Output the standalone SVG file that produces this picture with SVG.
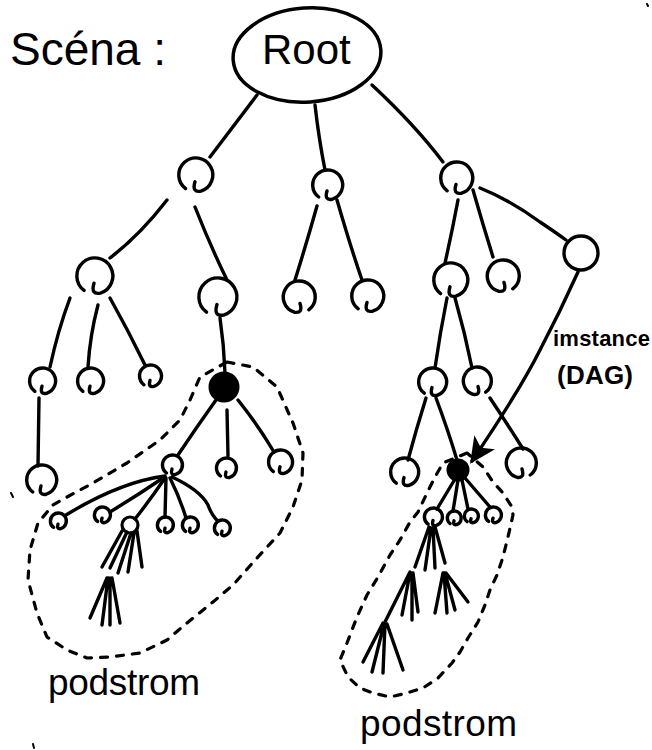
<svg xmlns="http://www.w3.org/2000/svg" xmlns:xlink="http://www.w3.org/1999/xlink" width="652" height="750" viewBox="0 0 652 750">
  <style>
    .ink { fill: none; stroke: #000; stroke-linecap: round; stroke-linejoin: round; }
    .edge { stroke-width: 3.4; }
    .dash { stroke-width: 3.2; stroke-dasharray: 7 9; }
    .solid { fill: #000; stroke: #000; stroke-width: 3; }
    .hand { font-family: "Liberation Sans", "DejaVu Sans", sans-serif; fill: #000; }
    .note { font-weight: bold; }
  </style>
  <defs>
    <!-- hand-drawn loop node, radius 10 around the origin; stroke width set per use -->
    <path id="knot" class="ink" d="M-5.5,8 A10,10 0 1 1 3.5,9.5 Q-2,10.5 0,4"/>
    <marker id="arrow" viewBox="0 0 12 12" refX="10" refY="6" markerWidth="8" markerHeight="8" markerUnits="strokeWidth" orient="auto">
      <path d="M0,0.5 L11.5,6 L0,11.5 L3,6 Z" fill="#000"/>
    </marker>
  </defs>

  <!-- titles and labels -->
  <text class="hand" x="10" y="65" font-size="46">Scéna :</text>
  <text class="hand note" x="553" y="346" font-size="22" textLength="97">imstance</text>
  <text class="hand note" x="557" y="384" font-size="26" textLength="76">(DAG)</text>
  <text class="hand" x="48" y="695" font-size="37" textLength="152">podstrom</text>
  <text class="hand" x="360" y="736" font-size="37" textLength="157">podstrom</text>

  <!-- subtree outlines -->
  <path class="ink dash" d="M227,362 L253,367 L277,387 L293,423 L303,453 L302,480 L293,507 L280,533 L257,558 L233,585 L213,602 L187,623 L167,640 L140,653 L110,657 L87,658 L67,650 L47,637 L37,613 L28,580 L30,550 L38,523 L53,505 L67,497 L93,483 L127,463 L160,440 L180,420 L190,400 L200,377 Z"/>
  <path class="ink dash" d="M467,453 L443,463 L435,477 L427,493 L418,512 L410,522 L400,540 L390,555 L378,577 L367,595 L357,617 L347,643 L340,660 L348,677 L360,688 L373,693 L390,697 L407,693 L423,688 L438,678 L452,663 L460,652 L468,638 L478,622 L485,605 L490,590 L497,575 L503,557 L508,537 L513,515 L512,507 L503,493 L493,482 L483,467 Z"/>

  <g id="connectors" class="ink edge">
    <path d="M257,95 Q232,128 210,157"/>
    <path d="M315,105 Q319,140 325,170"/>
    <path d="M372,85 Q415,125 443,162"/>
    <path d="M167,200 Q140,235 110,258"/>
    <path d="M195,207 Q210,245 227,280"/>
    <path d="M317,206 Q306,245 295,280"/>
    <path d="M337,200 Q350,245 362,280"/>
    <path d="M458,200 Q452,232 445,263"/>
    <path d="M473,190 Q483,225 493,257"/>
    <path d="M480,188 Q510,200 540,222 Q555,232 566,240"/>
    <path d="M70,298 Q58,330 50,367"/>
    <path d="M98,305 Q90,335 88,367"/>
    <path d="M110,298 Q128,330 145,365"/>
    <path d="M220,318 Q224,345 225,373"/>
    <path d="M39,398 L38,466"/>
    <path d="M216,400 Q196,428 178,455"/>
    <path d="M227,410 L228,456"/>
    <path d="M238,400 Q258,425 274,452"/>
    <path d="M165,476 Q120,482 66,515"/>
    <path d="M163,478 Q138,495 110,512"/>
    <path d="M165,478 Q150,500 135,519"/>
    <path d="M166,478 L165,517"/>
    <path d="M170,478 Q180,498 186,518"/>
    <path d="M172,477 Q200,490 208,505 Q212,516 218,521"/>
    <path d="M447,298 Q440,333 435,368"/>
    <path d="M455,298 Q465,333 472,368"/>
    <path d="M426,398 Q416,430 408,460"/>
    <path d="M436,398 Q448,430 457,460"/>
    <path d="M490,398 Q508,425 523,449"/>
    <path d="M455,479 L437,509"/>
    <path d="M458,480 L453,511"/>
    <path d="M462,480 L468,509"/>
    <path d="M465,478 L490,507"/>
    <path d="M578,272 Q560,312 540,350 Q520,390 472,461" marker-end="url(#arrow)"/>
  </g>

  <g id="subtree-fans" class="ink edge">
    <path d="M122,531 L102,567 M127,532 L110,568 M131,533 L118,573 M134,533 L128,572 M137,531 L142,567"/>
    <path d="M107,578 L90,618 M108,578 L102,625 M110,578 L110,625 M112,578 L120,623"/>
    <path d="M429,527 L415,567 M431,528 L425,570 M433,528 L435,568 M435,527 L445,563"/>
    <path d="M410,572 L385,622 M410,573 L402,615 M412,573 L412,620 M413,573 L418,612"/>
    <path d="M443,573 L435,613 M444,573 L447,613 M445,573 L455,610 M446,573 L468,602"/>
    <path d="M383,623 L363,662 M384,624 L372,672 M385,624 L383,673 M387,624 L403,670"/>
  </g>

  <!-- root -->
  <g id="root">
    <ellipse class="ink" cx="307" cy="55" rx="74" ry="47" stroke-width="3.5" transform="rotate(-4 307 55)"/>
    <text class="hand" x="262" y="64" font-size="42">Root</text>
  </g>

  <!-- level 1 -->
  <g id="n-l"><use xlink:href="#knot" transform="translate(195,175) scale(1.7)" stroke-width="2"/></g>
  <g id="n-m"><use xlink:href="#knot" transform="translate(327,185) scale(1.5)" stroke-width="2.27"/></g>
  <g id="n-r"><use xlink:href="#knot" transform="translate(456,178) scale(1.6)" stroke-width="2.13"/></g>

  <!-- level 2 -->
  <g id="n-ll"><use xlink:href="#knot" transform="translate(94,276) scale(1.8)" stroke-width="1.89"/></g>
  <g id="n-lr"><use xlink:href="#knot" transform="translate(217,297) scale(1.9)" stroke-width="1.79"/></g>
  <g id="n-ml"><use xlink:href="#knot" transform="translate(300,297) scale(-1.6,1.6)" stroke-width="2.13"/></g>
  <g id="n-mr"><use xlink:href="#knot" transform="translate(367,296) scale(1.6)" stroke-width="2.13"/></g>
  <g id="n-rl"><use xlink:href="#knot" transform="translate(450,280) scale(1.7)" stroke-width="2"/></g>
  <g id="n-rm"><use xlink:href="#knot" transform="translate(504,276) scale(-1.6,1.6)" stroke-width="2.13"/></g>
  <g id="n-rr"><circle class="ink" cx="581" cy="253" r="17" stroke-width="3.4"/></g>

  <!-- level 3 -->
  <g id="n-lla"><use xlink:href="#knot" transform="translate(42,381) scale(1.3)" stroke-width="2.62"/></g>
  <g id="n-llb"><use xlink:href="#knot" transform="translate(90,381) scale(1.3)" stroke-width="2.62"/></g>
  <g id="n-llc"><use xlink:href="#knot" transform="translate(150,376) scale(1.1)" stroke-width="3.09"/></g>
  <g id="n-lrf"><circle class="solid" cx="224" cy="387" r="14"/></g>
  <g id="n-rla"><use xlink:href="#knot" transform="translate(432,382) scale(1.4)" stroke-width="2.43"/></g>
  <g id="n-rlb"><use xlink:href="#knot" transform="translate(478,381) scale(-1.4,1.4)" stroke-width="2.43"/></g>

  <!-- level 4 -->
  <g id="n-lla1"><use xlink:href="#knot" transform="translate(41,480) scale(1.5)" stroke-width="2.27"/></g>
  <g id="n-f1"><use xlink:href="#knot" transform="translate(172,465) scale(1)" stroke-width="3.4"/></g>
  <g id="n-f2"><use xlink:href="#knot" transform="translate(226,468) scale(1)" stroke-width="3.4"/></g>
  <g id="n-f3"><use xlink:href="#knot" transform="translate(280,462) scale(1.2)" stroke-width="2.83"/></g>
  <g id="n-rla1"><use xlink:href="#knot" transform="translate(404,472) scale(1.4)" stroke-width="2.43"/></g>
  <g id="n-rlf"><circle class="solid" cx="458" cy="470" r="10"/></g>
  <g id="n-rlb1"><use xlink:href="#knot" transform="translate(522,463) scale(-1.5,1.5)" stroke-width="2.27"/></g>

  <!-- level 5 -->
  <g id="n-s1"><use xlink:href="#knot" transform="translate(58,521) scale(0.8)" stroke-width="4.25"/></g>
  <g id="n-s2"><use xlink:href="#knot" transform="translate(102,515) scale(0.8)" stroke-width="4.25"/></g>
  <g id="n-s3"><circle class="ink" cx="130" cy="525" r="8" stroke-width="3.2"/></g>
  <g id="n-s4"><use xlink:href="#knot" transform="translate(165,525) scale(0.8)" stroke-width="4.25"/></g>
  <g id="n-s5"><use xlink:href="#knot" transform="translate(190,525) scale(0.8)" stroke-width="4.25"/></g>
  <g id="n-s6"><use xlink:href="#knot" transform="translate(222,528) scale(0.8)" stroke-width="4.25"/></g>
  <g id="n-t1"><use xlink:href="#knot" transform="translate(433,517) scale(0.9)" stroke-width="3.78"/></g>
  <g id="n-t2"><use xlink:href="#knot" transform="translate(454,518) scale(0.7)" stroke-width="4.86"/></g>
  <g id="n-t3"><use xlink:href="#knot" transform="translate(471,516) scale(0.7)" stroke-width="4.86"/></g>
  <g id="n-t4"><use xlink:href="#knot" transform="translate(493,515) scale(0.8)" stroke-width="4.25"/></g>

  <!-- stray pen marks -->
  <path class="ink" stroke-width="2" d="M11,493 L13,497 M33,744 L34,748 M647,4 L648,6"/>
</svg>
